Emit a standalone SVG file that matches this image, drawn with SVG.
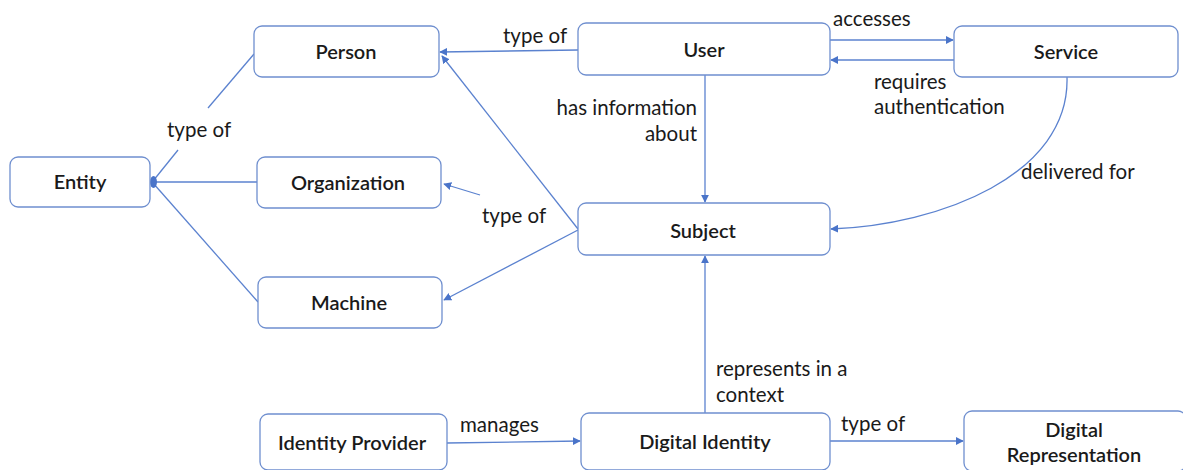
<svg xmlns="http://www.w3.org/2000/svg" width="1183" height="470" viewBox="0 0 1183 470">
<style>
.node rect{fill:#fff;stroke:#6f8fcf;stroke-width:1.3}
.node text{font-family:Lato,"Open Sans",sans-serif;font-size:20px;font-weight:600;fill:#1a1a1a;text-anchor:middle}
.lbl{font-family:Lato,"Open Sans",sans-serif;font-size:20.5px;fill:#1a1a1a}
.c path,.c line{fill:none;stroke:#5b82cf;stroke-width:1.3}
</style>
<defs>
<marker id="ar" viewBox="0 0 10 10" refX="9" refY="5" markerWidth="8" markerHeight="8" markerUnits="userSpaceOnUse" orient="auto">
<path d="M0,0 L10,5 L0,10 z" fill="#4a74c9"/>
</marker>
</defs>
<g class="c">
<line x1="254" y1="54" x2="208" y2="108"/>
<line x1="178" y1="150" x2="153" y2="181"/>
<line x1="257" y1="182" x2="153" y2="182"/>
<line x1="258" y1="302" x2="153" y2="183"/>
<ellipse cx="153.5" cy="182" rx="3.5" ry="6" fill="#4a74c9" stroke="none"/>
<line x1="578" y1="50" x2="440" y2="52" marker-end="url(#ar)"/>
<line x1="578" y1="229" x2="442" y2="56" marker-end="url(#ar)"/>
<line x1="480" y1="195" x2="444" y2="184" marker-end="url(#ar)"/>
<line x1="578" y1="230" x2="444" y2="300" marker-end="url(#ar)"/>
<line x1="705" y1="75" x2="705" y2="202" marker-end="url(#ar)"/>
<line x1="830" y1="40" x2="953" y2="40" marker-end="url(#ar)"/>
<line x1="954" y1="60" x2="831" y2="60" marker-end="url(#ar)"/>
<path d="M1067,77 C1070,175 940,225 831,229" marker-end="url(#ar)"/>
<line x1="705" y1="413" x2="705" y2="256" marker-end="url(#ar)"/>
<line x1="447" y1="443" x2="580" y2="441" marker-end="url(#ar)"/>
<line x1="830" y1="441" x2="963" y2="441" marker-end="url(#ar)"/>
</g>
<g id="entity" class="node"><rect x="10" y="157" width="140" height="50" rx="8"/><text x="80" y="189">Entity</text></g>
<g id="person" class="node"><rect x="254" y="26" width="185" height="51" rx="8"/><text x="346" y="59">Person</text></g>
<g id="organization" class="node"><rect x="257" y="157" width="184" height="51" rx="8"/><text x="348" y="190">Organization</text></g>
<g id="machine" class="node"><rect x="258" y="277" width="184" height="51" rx="8"/><text x="349" y="310">Machine</text></g>
<g id="identity-provider" class="node"><rect x="260" y="414" width="187" height="56" rx="8"/><text x="352" y="450">Identity Provider</text></g>
<g id="user" class="node"><rect x="578" y="23" width="252" height="52" rx="8"/><text x="704" y="57">User</text></g>
<g id="service" class="node"><rect x="954" y="26" width="224" height="51" rx="8"/><text x="1066" y="59">Service</text></g>
<g id="subject" class="node"><rect x="578" y="203" width="252" height="52" rx="8"/><text x="703" y="238">Subject</text></g>
<g id="digital-identity" class="node"><rect x="581" y="413" width="249" height="57" rx="8"/><text x="705" y="449">Digital Identity</text></g>
<g id="digital-representation" class="node"><rect x="964" y="411" width="222" height="60" rx="8"/><text x="1074" y="437">Digital</text><text x="1074" y="462">Representation</text></g>
<text class="lbl" x="167" y="137">type of</text>
<text class="lbl" x="503" y="43">type of</text>
<text class="lbl" x="482" y="223">type of</text>
<text class="lbl" x="697" y="115" text-anchor="end">has information</text>
<text class="lbl" x="697" y="141" text-anchor="end">about</text>
<text class="lbl" x="833" y="26">accesses</text>
<text class="lbl" x="874" y="89">requires</text>
<text class="lbl" x="874" y="114">authentication</text>
<text class="lbl" x="1021" y="179">delivered for</text>
<text class="lbl" x="716" y="376">represents in a</text>
<text class="lbl" x="716" y="402">context</text>
<text class="lbl" x="460" y="432">manages</text>
<text class="lbl" x="841" y="431">type of</text>
</svg>
